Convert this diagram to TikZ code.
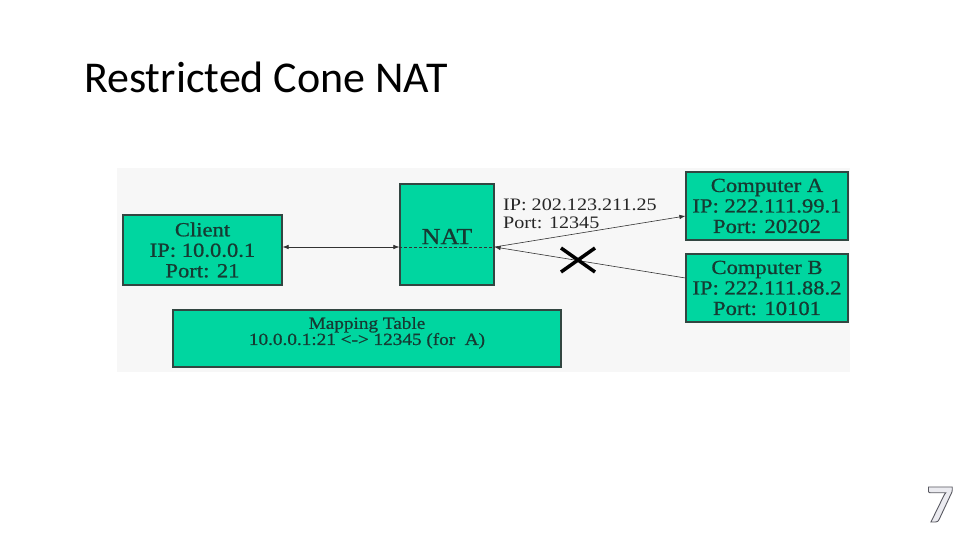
\documentclass[tikz,border=0pt]{standalone}
\usepackage{fontspec}
\setmainfont{Liberation Serif}[FakeStretch=1.15]
\newfontfamily\boxfont{Liberation Serif}[FakeStretch=1.13, FakeBold=0.8]
\newfontfamily\titlefont{Carlito}
\usetikzlibrary{arrows.meta}
\definecolor{boxgreen}{RGB}{0,214,160}
\definecolor{boxtext}{RGB}{22,58,50}
\definecolor{boxline}{RGB}{50,70,65}
\tikzset{
  gbox/.style={draw=boxline, line width=1.2pt, fill=boxgreen, text=boxtext, align=center, inner sep=0pt, font=\boxfont\fontsize{20}{20.5}\selectfont},
  conn/.style={line width=0.6pt, draw=black!80},
  tip/.style={-{Latex[length=6pt,width=4.5pt]}},
  cross/.style={line width=3.5pt, draw=black},
}
\begin{document}
\begin{tikzpicture}[x=1pt,y=-1pt]
\useasboundingbox (0,0) rectangle (960,540);
\fill[white] (0,0) rectangle (960,540);
\fill[black!3] (117,168) rectangle (850,372);
% title
\node[anchor=base west, inner sep=0pt, font=\titlefont\fontsize{44}{44}\selectfont] (title) at (84,93) {Restricted Cone NAT};
% boxes
\node[gbox, minimum width=159pt, minimum height=70pt] (client) at (202.5,250) {Client\\IP: 10.0.0.1\\Port: 21};
\node[gbox, minimum width=94pt, minimum height=101pt, font=\boxfont\fontsize{23}{23}\selectfont] (nat) at (447,234.5) {\raisebox{-2pt}[\height][\depth]{NAT}};
\node[gbox, minimum width=162pt, minimum height=68pt] (compA) at (767,206) {Computer A\\IP: 222.111.99.1\\Port: 20202};
\node[gbox, minimum width=162pt, minimum height=68pt] (compB) at (767,288) {Computer B\\IP: 222.111.88.2\\Port: 10101};
\node[gbox, minimum width=388pt, minimum height=57pt, font=\boxfont\fontsize{17}{17}\selectfont] (map) at (367,338.5)
  {\raisebox{5pt}[\height][\depth]{\begin{tabular}{@{}c@{}}Mapping Table\\[-1pt]10.0.0.1:21 <-> 12345 (for\ \ A)\end{tabular}}};
% label
\node[anchor=north west, align=left, inner sep=0pt, font=\fontsize{17.5}{18.5}\selectfont, text=black!85] (lbl) at (503,198.5) {IP: 202.123.211.25\\Port: 12345};
% anchor coordinates
\coordinate (natW) at (nat.west |- 0,247);
\coordinate (natE) at (nat.east |- 0,247);
\coordinate (cliE) at (client.east |- 0,247);
\coordinate (aW) at (compA.west |- 0,216);
\coordinate (bW) at (compB.west |- 0,278);
% connectors
\draw[conn, {Latex[length=6pt,width=4.5pt]}-{Latex[length=6pt,width=4.5pt]}] (cliE) -- (natW);
\draw[conn, dashed, dash pattern=on 3pt off 2pt] (natW) -- (natE);
\draw[conn, tip] (natE) -- (aW);
\draw[conn, tip] (bW) -- (natE);
% cross
\coordinate (xc) at (578,260);
\draw[cross] ([shift={(-17,-12)}]xc) -- ([shift={(17,12)}]xc);
\draw[cross] ([shift={(-17,12)}]xc) -- ([shift={(17,-12)}]xc);
% page number (outlined)
\node[anchor=base, inner sep=0pt, font=\titlefont\bfseries\fontsize{54}{54}\selectfont] (pg) at (940,522)
  {\special{pdf:literal direct 2 Tr 0.9 w 0.35 0.35 0.38 RG 0.92 0.92 0.94 rg}7\special{pdf:literal direct 0 Tr 0 0 0 RG 0 0 0 rg}};
\end{tikzpicture}
\end{document}
